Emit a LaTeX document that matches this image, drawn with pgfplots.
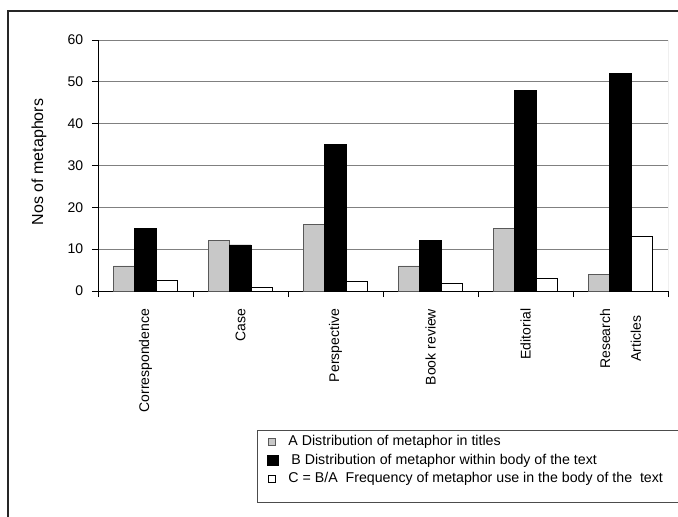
\documentclass[border=0pt]{standalone}
\usepackage{pgfplots}
\pgfplotsset{compat=1.18}
\usepackage{fontspec}
\setmainfont{Liberation Sans}
\definecolor{barA}{RGB}{200,200,200}
\definecolor{gridc}{RGB}{128,128,128}
\begin{document}
\fontsize{14}{16.8}\selectfont
\begin{tikzpicture}
\useasboundingbox (0pt,0pt) rectangle (678pt,517pt);
\draw[line width=1.5pt, black!85] (8pt,-5pt) -- (8pt,506pt) -- (690pt,506pt);
\draw[line width=1pt, black!70] (257pt,14.3pt) rectangle (700pt,86.3pt);
\begin{axis}[
  at={(98pt,226pt)}, anchor=south west,
  scale only axis, width=570pt, height=251pt,
  xmin=-0.5, xmax=5.5, ymin=0, ymax=60,
  ytick={0,10,...,60},
  axis x line*=bottom, axis y line*=left,
  axis line style={-, black},
  ymajorgrids, major grid style={draw=gridc, line width=0.8pt},
  xtick={-0.5,0.5,1.5,2.5,3.5,4.5,5.5},
  xticklabels={,,,,,,},
  tick label style={font=\fontsize{14}{16.8}\selectfont},
  y tick label style={xshift=-4pt},
  extra x ticks={0,1,2,3,4,5},
  extra x tick labels={Correspondence,Case,Perspective,Book review,Editorial,{Research\\[14pt]Articles}},
  extra x tick style={major tick length=0pt, grid=none,
    tick label style={yshift=-13pt, rotate=90, anchor=east, align=center}},
  tick align=outside, major tick length=6pt,
  tick style={black, line width=0.8pt},
  /pgf/number format/assume math mode=true,
  every axis y label/.style={at={(rel axis cs:-0.1035,0.514)}, anchor=center, rotate=90, font=\fontsize{16}{19}\selectfont},
  ylabel={Nos of metaphors},
  legend style={at={(0.296,-0.5631)}, anchor=north west, draw=none, fill=none,
    inner xsep=0pt, inner ysep=0pt, row sep=0pt,
    font=\fontsize{14.2}{17}\selectfont,
    nodes={text height=10pt, text depth=3pt, inner ysep=2.85pt, inner xsep=10pt}},
  legend cell align=left,
]
\addplot[ybar, bar width=0.224, bar shift=-0.224, fill=barA, draw=black!65, line width=0.8pt,
  legend image code/.code={\draw[fill=barA, draw=black!65, line width=0.6pt] (0pt,-3.5pt) rectangle (7pt,3.5pt);}]
  coordinates {(0,6) (1,12) (2,16) (3,6) (4,15) (5,4)};
\addlegendentry{A Distribution of metaphor in titles}
\addplot[ybar, bar width=0.224, bar shift=0, fill=black, draw=black, line width=0.8pt,
  legend image code/.code={\fill[black] (-1pt,-5.3pt) rectangle (9.7pt,5.3pt);}]
  coordinates {(0,15) (1,11) (2,35) (3,12) (4,48) (5,52)};
\addlegendentry{\hspace{3pt}B Distribution of metaphor within body of the text}
\addplot[ybar, bar width=0.224, bar shift=0.224, fill=white, draw=black, line width=0.8pt,
  legend image code/.code={\draw[fill=white, draw=black, line width=0.6pt] (0pt,-3.5pt) rectangle (7pt,3.5pt);}]
  coordinates {(0,2.6) (1,0.8) (2,2.2) (3,1.8) (4,3.0) (5,13)};
\addlegendentry{C = B/A\ \ Frequency of metaphor use in the body of the\ \ text}
\draw[gridc, line width=0.8pt] (rel axis cs:1,0) -- (rel axis cs:1,1);
\end{axis}
\end{tikzpicture}
\end{document}
